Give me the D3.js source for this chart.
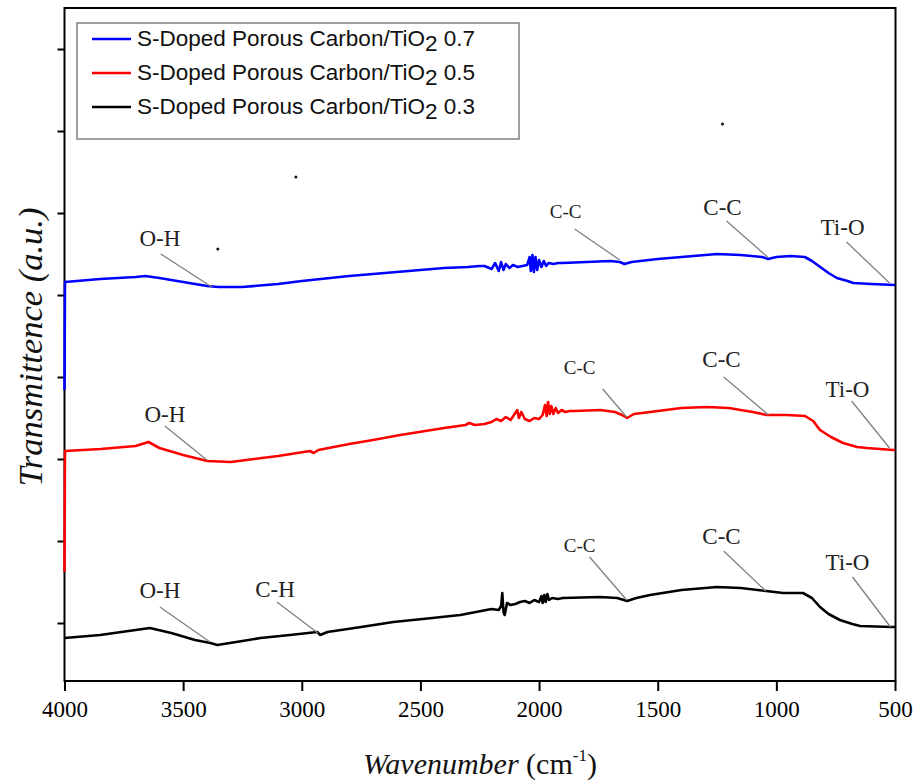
<!DOCTYPE html>
<html>
<head>
<meta charset="utf-8">
<script src="https://cdn.jsdelivr.net/npm/d3@7"></script>
<style>
  body { margin: 0; background: #fff; }
  svg { display: block; }
</style>
</head>
<body>
<svg id="canvas"></svg>
<script>
// wavenumber (cm-1), transmittance (a.u.)
const blue = [
  [4000, 317], [3998, 425], [3850, 428], [3700, 430], [3660, 431], [3600, 429], [3500, 425],
  [3400, 421], [3350, 420], [3250, 420], [3100, 423], [3000, 426], [2800, 431], [2600, 435],
  [2400, 439], [2300, 440], [2250, 441], [2230, 441], [2200, 438], [2185, 444], [2170, 436],
  [2160, 445], [2150, 437], [2140, 443], [2125, 439], [2110, 442], [2090, 440], [2070, 441],
  [2050, 442], [2040, 450], [2035, 436], [2028, 452], [2022, 435], [2015, 450], [2008, 437],
  [2000, 447], [1990, 440], [1980, 446], [1970, 441], [1960, 444], [1940, 443], [1920, 444],
  [1900, 444], [1800, 445], [1700, 446], [1660, 445], [1640, 443], [1610, 445], [1500, 448],
  [1400, 450], [1250, 453], [1150, 452], [1060, 450], [1035, 448], [1000, 450], [940, 451],
  [880, 450], [850, 446], [815, 440], [780, 434], [745, 429], [700, 426], [675, 424],
  [600, 423], [500, 422]
];
const red = [
  [4000, 135], [3998, 256], [3848, 258], [3700, 261], [3660, 264], [3646, 265], [3600, 259],
  [3500, 252], [3398, 246], [3300, 245], [3100, 251], [2965, 256], [2950, 254], [2930, 257],
  [2800, 263], [2700, 267], [2585, 272], [2400, 279], [2310, 282], [2295, 284], [2270, 282],
  [2230, 283], [2200, 285], [2180, 288], [2160, 286], [2140, 290], [2120, 287], [2100, 294],
  [2092, 297], [2085, 289], [2075, 295], [2060, 288], [2040, 286], [2020, 289], [2000, 288],
  [1985, 292], [1975, 302], [1968, 291], [1962, 305], [1955, 293], [1948, 301], [1940, 293],
  [1930, 299], [1920, 294], [1905, 297], [1890, 295], [1870, 296], [1850, 296], [1742, 297],
  [1680, 295], [1650, 292], [1629, 289], [1600, 293], [1532, 295], [1400, 299], [1292, 300],
  [1200, 299], [1100, 295], [1040, 292], [955, 292], [879, 291], [845, 286], [816, 277],
  [770, 270], [719, 264], [660, 260], [618, 259], [508, 257], [500, 257]
];
const black = [
  [4000, 69], [3850, 72], [3700, 77], [3640, 79], [3550, 74], [3450, 67], [3385, 64],
  [3356, 62], [3250, 66], [3174, 69], [3050, 72], [2935, 75], [2922, 72], [2892, 75],
  [2750, 80], [2614, 85], [2450, 89], [2332, 92], [2200, 98], [2170, 97], [2160, 101],
  [2155, 114], [2150, 95], [2145, 92], [2135, 104], [2120, 102], [2100, 103], [2080, 105],
  [2060, 106], [2040, 104], [2020, 107], [2000, 105], [1990, 111], [1985, 104], [1978, 112],
  [1972, 105], [1965, 113], [1958, 107], [1945, 109], [1920, 108], [1900, 109], [1742, 110],
  [1671, 109], [1629, 106], [1590, 109], [1532, 112], [1400, 117], [1250, 120], [1150, 119],
  [1043, 116], [972, 114], [888, 114], [850, 109], [816, 100], [780, 93], [732, 87],
  [680, 83], [647, 81], [517, 80], [500, 80]
];

const seriesNames = ['S-Doped Porous Carbon/TiO2 0.7', 'S-Doped Porous Carbon/TiO2 0.5', 'S-Doped Porous Carbon/TiO2 0.3'];
const seriesColors = ['#0000ff', '#ff0000', '#000000'];

const xTicks = [4000, 3500, 3000, 2500, 2000, 1500, 1000, 500];
const yTicks = [84, 166, 248, 330, 412, 494, 576, 658];

// label, label anchor [wn, v], pointer from [wn, v], pointer to [wn, v], small
const notes = [
  ['O-H', [3598, 461], [3594, 453], [3379, 420], false],
  ['C-C', [1888, 489], [1850, 478], [1660, 447], true],
  ['C-C', [1227, 492], [1210, 486], [1037, 450], false],
  ['Ti-O', [721, 472], [704, 465], [523, 424], false],
  ['O-H', [3577, 285], [3577, 281], [3400, 247], false],
  ['C-C', [1829, 333], [1732, 318], [1631, 290], true],
  ['C-C', [1231, 340], [1222, 330], [1033, 292], false],
  ['Ti-O', [700, 310], [683, 306], [523, 259], false],
  ['O-H', [3598, 109], [3598, 100], [3387, 65], false],
  ['C-H', [3113, 110], [3105, 105], [2932, 74], false],
  ['C-C', [1829, 155], [1787, 150], [1631, 107], true],
  ['C-C', [1231, 163], [1222, 156], [1045, 116], false],
  ['Ti-O', [700, 137], [679, 130], [519, 80], false]
];
const specks = [[3025, 530], [3354, 458], [1227, 583]];

const width = 913;
const height = 780;
const padLeft = 64.5, padRight = 895.5, padTop = 8, padBottom = 681;
const serif = '"Liberation Serif", "Times New Roman", serif';

let canvas = d3.select('#canvas').attr('width', width).attr('height', height);

let xScale = d3.scaleLinear().domain([4000, 500]).range([padLeft, padRight - 0.5]);
let yScale = d3.scaleLinear().domain([707 - padBottom, 707 - padTop]).range([padBottom, padTop]);

// axes
let xAxis = d3.axisBottom(xScale).tickValues(xTicks).tickSize(10).tickPadding(10).tickFormat(d3.format('d'));
let xg = canvas.append('g').attr('transform', 'translate(0,' + padBottom + ')').call(xAxis);
xg.attr('font-family', null).attr('font-size', null);
xg.select('.domain').remove();
xg.selectAll('line').attr('stroke', '#000').attr('stroke-width', 2);
xg.selectAll('text').style('font-family', serif).style('font-size', '23px').attr('fill', '#000');

let yAxis = d3.axisLeft(yScale).tickValues(yTicks).tickSize(7).tickFormat('');
let yg = canvas.append('g').attr('transform', 'translate(' + padLeft + ',0)').call(yAxis);
yg.select('.domain').remove();
yg.selectAll('line').attr('stroke', '#000').attr('stroke-width', 2);

canvas.append('rect')
  .attr('x', padLeft).attr('y', padTop).attr('width', padRight - padLeft).attr('height', padBottom - padTop)
  .attr('fill', 'none').attr('stroke', '#000').attr('stroke-width', 2);

// curves
const line = d3.line().x(d => xScale(d[0])).y(d => yScale(d[1]));
[blue, red, black].forEach((s, i) => {
  canvas.append('path').datum(s)
    .attr('d', line).attr('fill', 'none')
    .attr('stroke', seriesColors[i]).attr('stroke-width', 2.6)
    .attr('stroke-linejoin', 'round');
});

// annotations
notes.forEach(n => {
  canvas.append('line')
    .attr('x1', xScale(n[2][0])).attr('y1', yScale(n[2][1]))
    .attr('x2', xScale(n[3][0])).attr('y2', yScale(n[3][1]))
    .attr('stroke', '#808080').attr('stroke-width', 1.3);
  canvas.append('text')
    .attr('x', xScale(n[1][0])).attr('y', yScale(n[1][1]))
    .attr('text-anchor', 'middle')
    .style('font-family', serif)
    .style('font-size', (n[4] ? 19 : 23) + 'px')
    .attr('fill', '#222')
    .text(n[0]);
});

canvas.selectAll('circle.speck').data(specks).enter().append('circle')
  .attr('class', 'speck')
  .attr('cx', d => xScale(d[0])).attr('cy', d => yScale(d[1])).attr('r', 1.5).attr('fill', '#111');

// legend
let legend = canvas.append('g');
legend.append('rect')
  .attr('x', 77).attr('y', 23).attr('width', 442).attr('height', 116)
  .attr('fill', '#fff').attr('stroke', '#888').attr('stroke-width', 1.6);
seriesNames.forEach((name, i) => {
  let cy = 39 + i * 34;
  legend.append('line').attr('x1', 92).attr('x2', 131).attr('y1', cy).attr('y2', cy)
    .attr('stroke', seriesColors[i]).attr('stroke-width', 2.6);
  let parts = name.split('TiO2');
  let t = legend.append('text').attr('x', 137).attr('y', cy + 7)
    .style('font-family', '"Liberation Sans", Arial, sans-serif').style('font-size', '22.5px').attr('fill', '#111');
  t.append('tspan').text(parts[0] + 'TiO');
  t.append('tspan').attr('dy', 5).text('2');
  t.append('tspan').attr('dy', -5).text(parts[1]);
});

// axis titles
canvas.append('text')
  .attr('transform', 'translate(42,' + 347 + ') rotate(-90)')
  .attr('text-anchor', 'middle')
  .style('font-family', serif).style('font-style', 'italic').style('font-size', '34.5px')
  .attr('fill', '#111')
  .text('Transmittence (a.u.)');

let xt = canvas.append('text')
  .attr('x', 480).attr('y', 774).attr('text-anchor', 'middle')
  .style('font-family', serif).style('font-size', '30px').attr('fill', '#111');
xt.append('tspan').style('font-style', 'italic').text('Wavenumber');
xt.append('tspan').text(' (cm');
xt.append('tspan').style('font-size', '17px').attr('dy', -13).text('-1');
xt.append('tspan').attr('dy', 13).text(')');
</script>
</body>
</html>
